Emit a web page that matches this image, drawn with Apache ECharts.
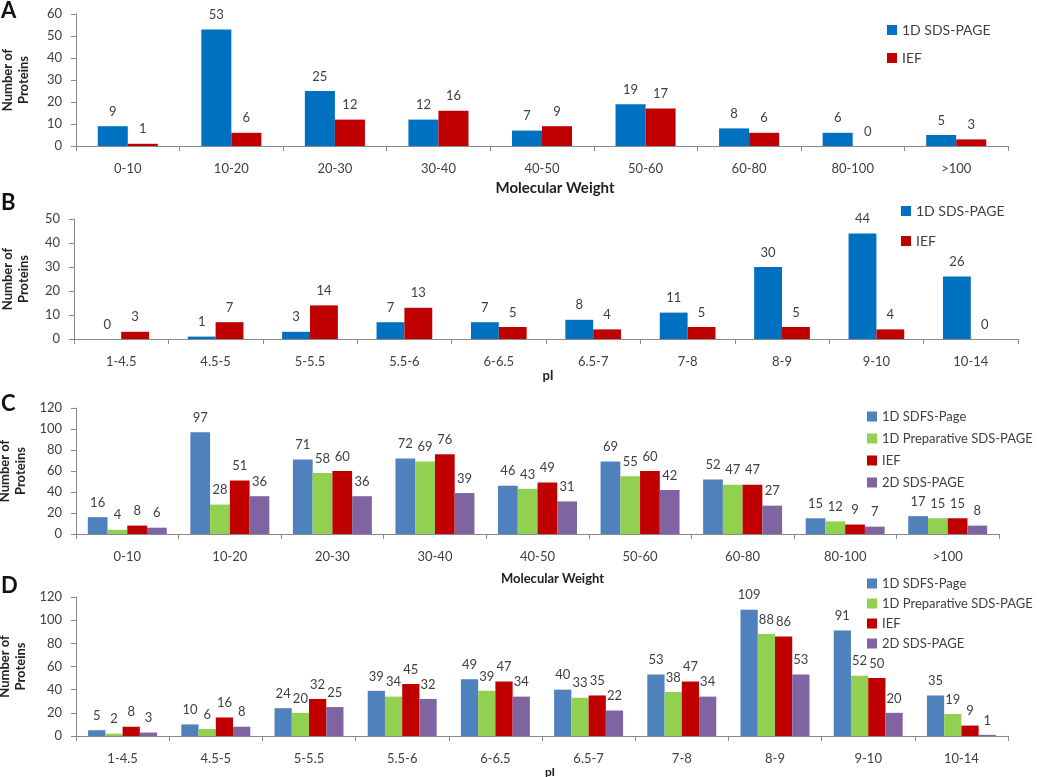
<!DOCTYPE html>
<html>
<head>
<meta charset="utf-8">
<script src="https://cdn.jsdelivr.net/npm/echarts@6/dist/echarts.min.js"></script>
<style>html,body{margin:0;padding:0;background:#fff}#c{width:1050px;height:777px}</style>
</head>
<body>
<div id="c"></div>
<script>
// ---- data ----
const mwCategories = ['0-10','10-20','20-30','30-40','40-50','50-60','60-80','80-100','>100'];
const piCategories = ['1-4.5','4.5-5','5-5.5','5.5-6','6-6.5','6.5-7','7-8','8-9','9-10','10-14'];

const A_sds = [9,53,25,12,7,19,8,6,5];
const A_ief = [1,6,12,16,9,17,6,0,3];

const B_sds = [0,1,3,7,7,8,11,30,44,26];
const B_ief = [3,7,14,13,5,4,5,5,4,0];

const C_sds  = [16,97,71,72,46,69,52,15,17];
const C_prep = [4,28,58,69,43,55,47,12,15];
const C_ief  = [8,51,60,76,49,60,47,9,15];
const C_2d   = [6,36,36,39,31,42,27,7,8];

const D_sds  = [5,10,24,39,49,40,53,109,91,35];
const D_prep = [2,6,20,34,39,33,38,88,52,19];
const D_ief  = [8,16,32,45,47,35,47,86,50,9];
const D_2d   = [3,8,25,32,34,22,34,53,20,1];

const yTicksA = {min:0,max:60,interval:10};
const yTicksB = {min:0,max:50,interval:10};
const yTicksC = {min:0,max:120,interval:20};
const yTicksD = {min:0,max:120,interval:20};

// ---- style ----
const FONT = 'Lato, "Open Sans", sans-serif';
const TXT = '#404040';
const AX = '#8a8a8a';
const BLUE1 = '#0070C0', RED = '#C00000';
const BLUE2 = '#4F81BD', GREEN = '#92D050', PURPLE = '#8064A2';

function xAxis(gi, cats, name, gap, nsize, shift){
  return {type:'category', gridIndex:gi, data:cats,
    axisLine:{lineStyle:{color:AX}}, axisTick:{show:true, length:5, alignWithLabel:false, lineStyle:{color:AX}},
    axisLabel:{color:TXT, fontSize:13, fontFamily:FONT, margin:16},
    name:name, nameLocation:'middle', nameGap:gap,
    nameTextStyle:{color:'#222', fontWeight:'bold', fontSize:nsize, fontFamily:FONT, padding:[0,0,0,shift]}};
}
function yAxis(gi, t, gap){
  return {type:'value', gridIndex:gi, min:t.min, max:t.max, interval:t.interval,
    splitLine:{show:false},
    axisLine:{show:true, lineStyle:{color:AX}}, axisTick:{show:true, length:5, lineStyle:{color:AX}},
    axisLabel:{color:TXT, fontSize:13, fontFamily:FONT, margin:14},
    name:'Number of\nProteins', nameLocation:'middle', nameRotate:90, nameGap:gap,
    nameTextStyle:{color:'#222', fontWeight:'bold', fontSize:13, fontFamily:FONT, lineHeight:16}};
}
function bar(name, data, gi, color, catGap){
  return {type:'bar', name:name, data:data, xAxisIndex:gi, yAxisIndex:gi,
    itemStyle:{color:color}, barGap:'0%', barCategoryGap:catGap,
    label:{show:true, position:'top', distance:8, color:TXT, fontSize:13, fontFamily:FONT}};
}
function legend(names, left, top, gap, fs){
  return {data:names, orient:'vertical', left:left, top:top, itemGap:gap,
    itemWidth:10, itemHeight:10, icon:'rect', selectedMode:false,
    textStyle:{color:TXT, fontSize:fs, fontFamily:FONT}};
}
function grid(left, right, top, height){
  return {left:left, right:right, top:top, height:height, containLabel:false, outerBoundsMode:'none'};
}

const option = {
  animation:false,
  textStyle:{fontFamily:FONT},
  grid:[
    grid(76, 42, 14, 132),
    grid(74, 32, 219, 120),
    grid(76, 51, 408, 126),
    grid(76, 42, 597, 139)
  ],
  xAxis:[
    xAxis(0, mwCategories, 'Molecular Weight', 35, 15, 26),
    xAxis(1, piCategories, 'pI', 21, 13, 4),
    xAxis(2, mwCategories, 'Molecular Weight', 38, 13, 30),
    xAxis(3, piCategories, 'pI', 29, 12, 16)
  ],
  yAxis:[
    yAxis(0, yTicksA, 44),
    yAxis(1, yTicksB, 42),
    yAxis(2, yTicksC, 44),
    yAxis(3, yTicksD, 44)
  ],
  legend:[
    legend(['1D SDS-PAGE','IEF'], 882, 18, 14, 14),
    legend(['1D SDS-PAGE','IEF'], 896, 199, 16, 14),
    legend(['1D SDFS-Page','1D Preparative SDS-PAGE','IEF','2D SDS-PAGE'], 862, 405, 9, 13),
    legend(['1D SDFS-Page','1D Preparative SDS-PAGE','IEF','2D SDS-PAGE'], 862, 572, 7, 13)
  ],
  graphic:[
    {type:'text', left:1, top:0, style:{text:'A', font:'bold 22px '+FONT, fill:'#111'}},
    {type:'text', left:1, top:192, style:{text:'B', font:'bold 22px '+FONT, fill:'#111'}},
    {type:'text', left:1, top:393, style:{text:'C', font:'bold 22px '+FONT, fill:'#111'}},
    {type:'text', left:1, top:575, style:{text:'D', font:'bold 22px '+FONT, fill:'#111'}}
  ],
  series:[
    bar('1D SDS-PAGE', A_sds, 0, BLUE1, '42%'),
    bar('IEF', A_ief, 0, RED, '42%'),
    bar('1D SDS-PAGE', B_sds, 1, BLUE1, '41%'),
    bar('IEF', B_ief, 1, RED, '41%'),
    bar('1D SDFS-Page', C_sds, 2, BLUE2, '23%'),
    bar('1D Preparative SDS-PAGE', C_prep, 2, GREEN, '23%'),
    bar('IEF', C_ief, 2, RED, '23%'),
    bar('2D SDS-PAGE', C_2d, 2, PURPLE, '23%'),
    bar('1D SDFS-Page', D_sds, 3, BLUE2, '26%'),
    bar('1D Preparative SDS-PAGE', D_prep, 3, GREEN, '26%'),
    bar('IEF', D_ief, 3, RED, '26%'),
    bar('2D SDS-PAGE', D_2d, 3, PURPLE, '26%')
  ]
};
const chart = echarts.init(document.getElementById('c'), null, {renderer:'canvas'});
chart.setOption(option);
</script>
</body>
</html>
